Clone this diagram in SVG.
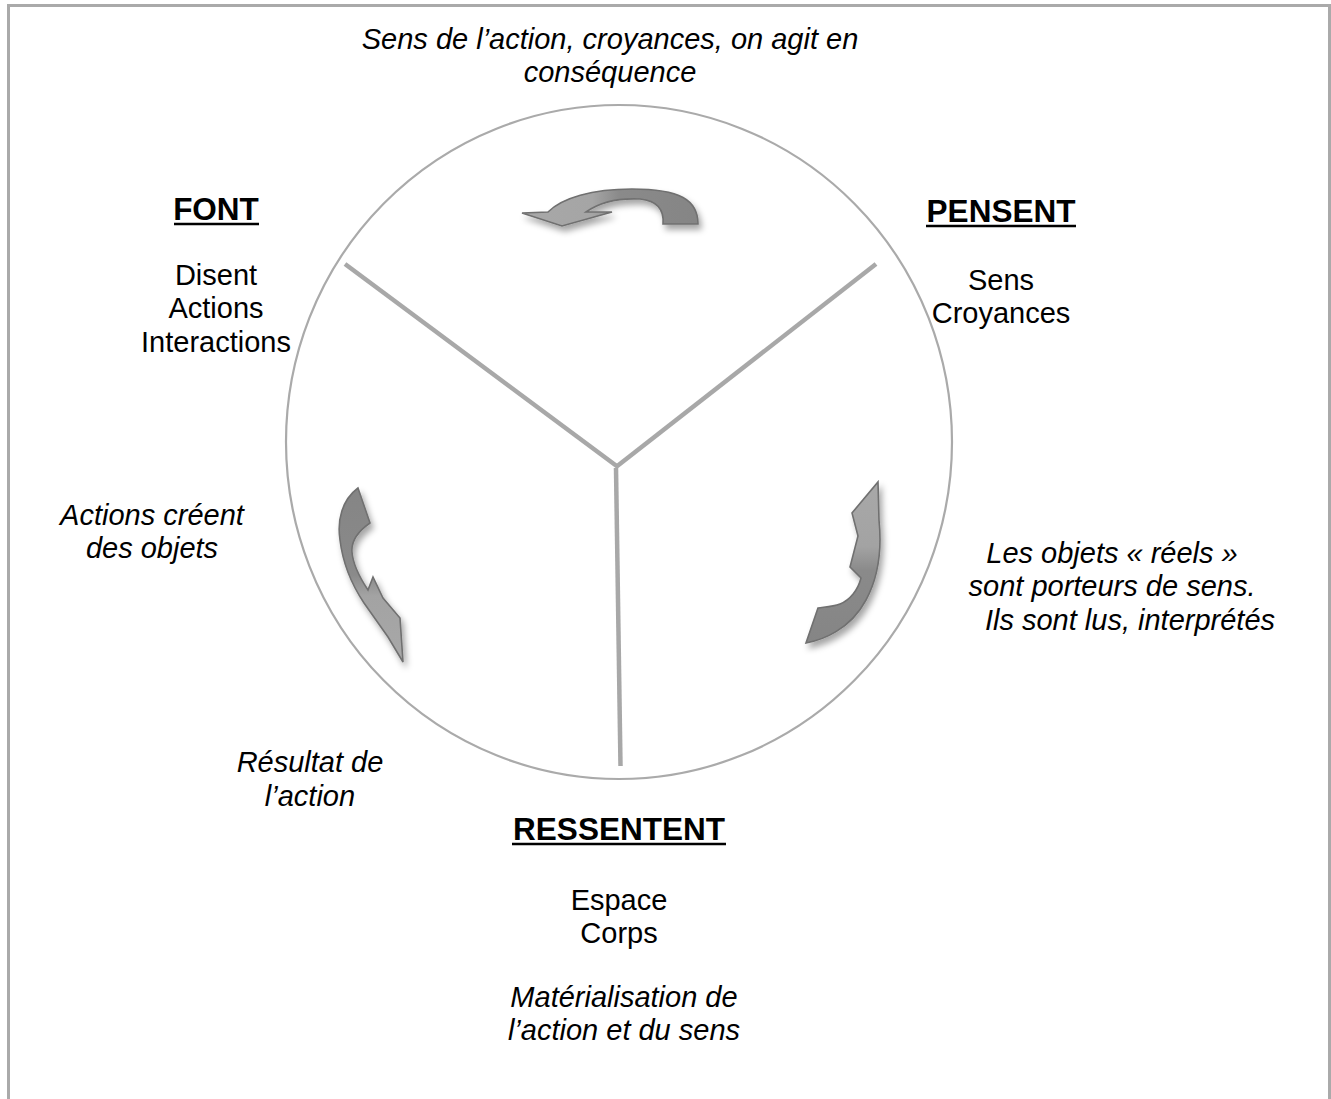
<svg xmlns="http://www.w3.org/2000/svg" width="1331" height="1099" viewBox="0 0 1331 1099">
  <defs>
    <style>
      text { font-family: "Liberation Sans", Arial, sans-serif; font-size: 29px; fill: #000; text-anchor: middle; }
      .it { font-style: italic; }
      .head { font-weight: bold; font-size: 31.5px; }
      .frame { fill: none; stroke: #aaaaaa; stroke-width: 3; }
      .ring { fill: none; stroke: #aaaaaa; stroke-width: 2.2; }
      .spoke { stroke: #a8a8a8; stroke-width: 4.5; stroke-linecap: butt; fill: none; }
      .uline { stroke: #000; stroke-width: 2.5; }
      .arrow { stroke: #707070; stroke-width: 1.6; stroke-linejoin: miter; filter: url(#shadow); }
    </style>
    <filter id="shadow" x="-30%" y="-30%" width="160%" height="160%">
      <feDropShadow dx="3" dy="5" stdDeviation="3" flood-color="#000" flood-opacity="0.35"/>
    </filter>
    <linearGradient id="gTop" x1="1" y1="0" x2="0" y2="0">
      <stop offset="0" stop-color="#858585"/>
      <stop offset="0.45" stop-color="#8a8a8a"/>
      <stop offset="0.6" stop-color="#a5a5a5"/>
      <stop offset="1" stop-color="#a8a8a8"/>
    </linearGradient>
    <linearGradient id="gLeft" x1="0" y1="0" x2="0" y2="1">
      <stop offset="0" stop-color="#858585"/>
      <stop offset="0.5" stop-color="#8a8a8a"/>
      <stop offset="0.62" stop-color="#a3a3a3"/>
      <stop offset="1" stop-color="#a8a8a8"/>
    </linearGradient>
    <linearGradient id="gRight" x1="0" y1="1" x2="0" y2="0">
      <stop offset="0" stop-color="#858585"/>
      <stop offset="0.45" stop-color="#8a8a8a"/>
      <stop offset="0.6" stop-color="#a3a3a3"/>
      <stop offset="1" stop-color="#a8a8a8"/>
    </linearGradient>
  </defs>

  <rect width="1331" height="1099" fill="#ffffff"/>
  <!-- outer frame: top, left and right edges only -->
  <path class="frame" d="M 8.5 1099 L 8.5 5.5 L 1329.5 5.5 L 1329.5 1099"/>

  <!-- circle and its three dividing spokes -->
  <g id="cycle">
    <ellipse class="ring" cx="619" cy="442" rx="333" ry="337"/>
  </g>
  <g id="connectors">
    <line class="spoke" x1="345" y1="264" x2="618" y2="467"/>
    <line class="spoke" x1="876" y1="264" x2="616" y2="467"/>
    <line class="spoke" x1="616" y1="468" x2="620.5" y2="766"/>
  </g>

  <!-- curved block arrows inside each sector -->
  <g id="arrow-top">
    <path class="arrow" fill="url(#gTop)" d="M 698 224 C 698 200, 680 189, 632 189 C 592 189, 562 198, 548 212 L 522 213 L 562 226 L 612 212 L 586 212 C 600 202, 618 198, 640 199 C 660 201, 664 212, 663 224 Z"/>
  </g>
  <g id="arrow-left">
    <path class="arrow" fill="url(#gLeft)" d="M 358 488 C 342 500, 337 520, 340 540 C 343 565, 352 585, 364 603 L 388 637 L 403 662 L 400 618 L 383 598 L 373 577 L 368 590 C 360 578, 353 565, 352 552 C 351 540, 360 530, 370 523 Z"/>
  </g>
  <g id="arrow-right">
    <path class="arrow" fill="url(#gRight)" d="M 806 643 C 822 640, 850 630, 866 600 C 878 578, 882 550, 879 520 L 878 482 L 852 513 L 858 536 L 850 567 L 861 578 C 858 590, 850 600, 840 604 C 832 607, 824 607, 818 608 Z"/>
  </g>

  <!-- top annotation -->
  <g id="note-top">
    <text class="it" x="610" y="49">Sens de l’action, croyances, on agit en</text>
    <text class="it" x="610" y="82">conséquence</text>
  </g>

  <!-- FONT -->
  <g id="node-font">
    <text class="head" x="216" y="220">FONT</text>
    <line class="uline" x1="174" y1="224" x2="259" y2="224"/>
    <text x="216" y="285">Disent</text>
    <text x="216" y="318">Actions</text>
    <text x="216" y="352">Interactions</text>
  </g>

  <!-- PENSENT -->
  <g id="node-pensent">
    <text class="head" x="1001" y="222">PENSENT</text>
    <line class="uline" x1="926" y1="226" x2="1076" y2="226"/>
    <text x="1001" y="290">Sens</text>
    <text x="1001" y="323">Croyances</text>
  </g>

  <!-- RESSENTENT -->
  <g id="node-ressentent">
    <text class="head" x="619" y="840">RESSENTENT</text>
    <line class="uline" x1="512" y1="844" x2="726" y2="844"/>
    <text x="619" y="910">Espace</text>
    <text x="619" y="943">Corps</text>
    <text class="it" x="624" y="1007">Matérialisation de</text>
    <text class="it" x="624" y="1040">l’action et du sens</text>
  </g>

  <!-- side annotations -->
  <g id="note-left">
    <text class="it" x="152" y="525">Actions créent</text>
    <text class="it" x="152" y="558">des objets</text>
  </g>
  <g id="note-right">
    <text class="it" x="1112" y="563">Les objets « réels »</text>
    <text class="it" x="1112" y="596">sont porteurs de sens.</text>
    <text class="it" x="1130" y="630">Ils sont lus, interprétés</text>
  </g>
  <g id="note-bottom-left">
    <text class="it" x="310" y="772">Résultat de</text>
    <text class="it" x="310" y="806">l’action</text>
  </g>
</svg>
